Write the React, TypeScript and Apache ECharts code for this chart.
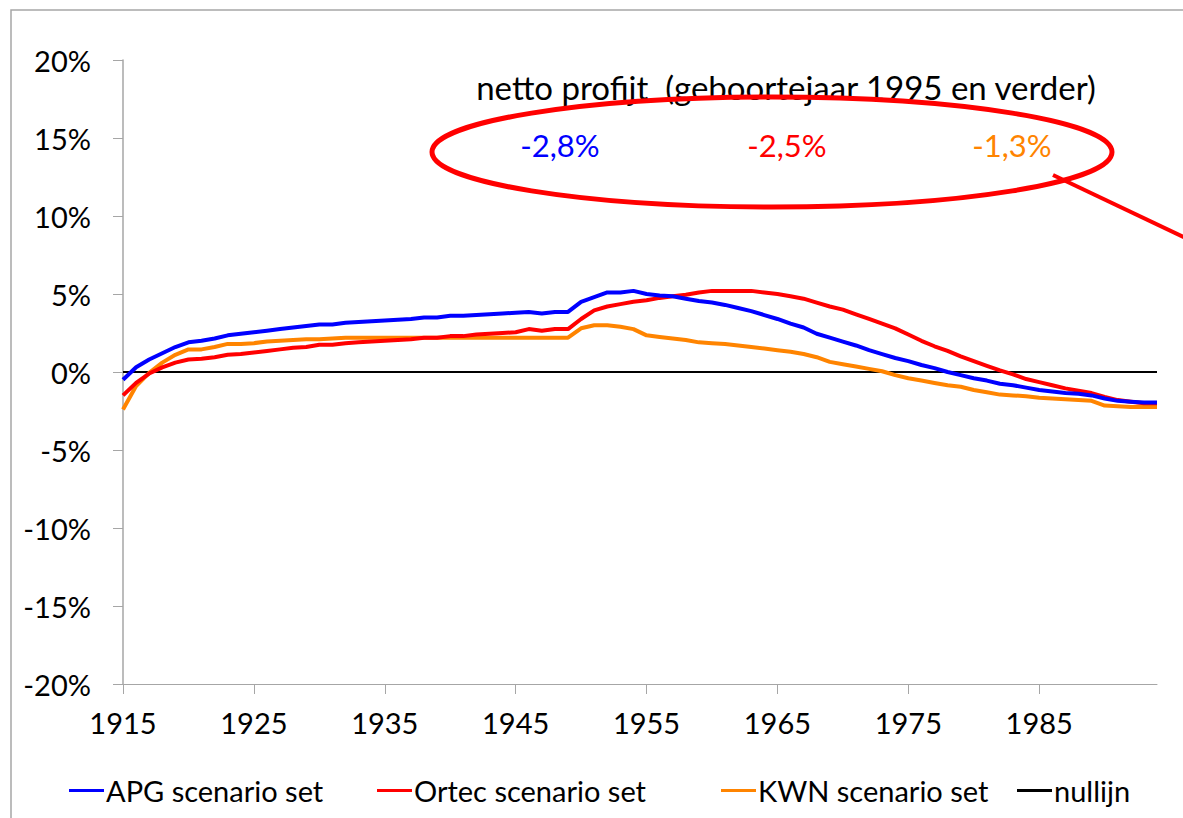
import React, { useEffect, useRef } from "react";
import * as echarts from "echarts";

const years: string[] = [];
for (let y = 1915; y <= 1994; y++) years.push(String(y));

const apg = [
  -0.5, 0.3, 0.8, 1.2, 1.6, 1.9, 2.0, 2.15, 2.35, 2.45,
  2.55, 2.65, 2.75, 2.85, 2.95, 3.05, 3.05, 3.15, 3.2, 3.25,
  3.3, 3.35, 3.4, 3.5, 3.5, 3.6, 3.6, 3.65, 3.7, 3.75,
  3.8, 3.85, 3.75, 3.85, 3.85, 4.5, 4.8, 5.1, 5.1, 5.2,
  5.0, 4.9, 4.85, 4.7, 4.55, 4.45, 4.3, 4.1, 3.9, 3.65,
  3.4, 3.1, 2.85, 2.45, 2.2, 1.95, 1.7, 1.4, 1.15, 0.9,
  0.7, 0.45, 0.25, 0.0, -0.2, -0.4, -0.55, -0.75, -0.85, -1.0,
  -1.15, -1.25, -1.35, -1.4, -1.5, -1.7, -1.85, -1.9, -1.95, -1.95,
];

const ortec = [
  -1.5, -0.7, -0.1, 0.3, 0.6, 0.8, 0.85, 0.95, 1.1, 1.15,
  1.25, 1.35, 1.45, 1.55, 1.6, 1.75, 1.75, 1.85, 1.9, 1.95,
  2.0, 2.05, 2.1, 2.2, 2.2, 2.3, 2.3, 2.4, 2.45, 2.5,
  2.55, 2.75, 2.65, 2.75, 2.75, 3.4, 3.95, 4.2, 4.35, 4.5,
  4.6, 4.75, 4.85, 4.95, 5.1, 5.2, 5.2, 5.2, 5.2, 5.1,
  5.0, 4.85, 4.7, 4.45, 4.2, 4.0, 3.7, 3.4, 3.1, 2.8,
  2.4, 2.0, 1.65, 1.35, 1.0, 0.7, 0.4, 0.1, -0.15, -0.45,
  -0.65, -0.85, -1.05, -1.2, -1.35, -1.6, -1.8, -1.9, -2.0, -2.0,
];

const kwn = [
  -2.4, -0.9, -0.05, 0.6, 1.1, 1.45, 1.45, 1.6, 1.8, 1.8,
  1.85, 1.95, 2.0, 2.05, 2.1, 2.1, 2.15, 2.2, 2.2, 2.2,
  2.2, 2.2, 2.2, 2.2, 2.2, 2.2, 2.2, 2.2, 2.2, 2.2,
  2.2, 2.2, 2.2, 2.2, 2.2, 2.8, 3.0, 3.0, 2.9, 2.75,
  2.35, 2.25, 2.15, 2.05, 1.9, 1.85, 1.8, 1.7, 1.6, 1.5,
  1.4, 1.3, 1.15, 0.95, 0.65, 0.5, 0.35, 0.2, 0.05, -0.2,
  -0.4, -0.55, -0.7, -0.85, -0.95, -1.15, -1.3, -1.45, -1.5, -1.55,
  -1.65, -1.7, -1.75, -1.8, -1.85, -2.15, -2.2, -2.25, -2.25, -2.25,
];

const nullijn = years.map(() => 0);

const seriesNames = ["APG scenario set", "Ortec scenario set", "KWN scenario set", "nullijn"];
const seriesColors = ["#0000FF", "#FF0000", "#FF8400", "#000000"];

const titleText = "netto profijt  (geboortejaar 1995 en verder)";
const profitLabels = ["-2,8%", "-2,5%", "-1,3%"];

const FONT = "Lato, 'Noto Sans', sans-serif";
const legendLefts = [69, 377, 721, 1017];

export default function App() {
  const ref = useRef<HTMLDivElement>(null);
  useEffect(() => {
    document.body.style.margin = "0";
    if (!ref.current) return;
    const chart = echarts.init(ref.current, null, { renderer: "svg" });
    const dataSets = [apg, ortec, kwn, nullijn];
    chart.setOption({
      animation: false,
      backgroundColor: "#ffffff",
      textStyle: { fontFamily: FONT },
      grid: { left: 123, right: 26, top: 60, bottom: 134, containLabel: false },
      legend: seriesNames.map((name, i) => ({
        data: [name],
        left: legendLefts[i],
        top: 776,
        padding: 0,
        icon: "rect",
        itemWidth: 35,
        itemHeight: 3,
        textStyle: { fontFamily: FONT, fontSize: 29, color: "#000", padding: [0, 0, 0, -3] },
      })),
      xAxis: {
        type: "category",
        data: years,
        boundaryGap: false,
        axisLine: { onZero: false, lineStyle: { color: "#A6A6A6", width: 1 } },
        axisTick: { interval: 9, length: 10, lineStyle: { color: "#A6A6A6" } },
        axisLabel: { interval: 9, margin: 24, fontSize: 29, color: "#000", fontFamily: FONT },
        splitLine: { show: false },
      },
      yAxis: {
        type: "value",
        min: -20,
        max: 20,
        interval: 5,
        axisLine: { show: true, lineStyle: { color: "#A6A6A6", width: 1.5 } },
        axisTick: { show: true, length: 10, lineStyle: { color: "#A6A6A6" } },
        axisLabel: { margin: 32, fontSize: 29, color: "#000", fontFamily: FONT, formatter: (v: number) => `${v}%` },
        splitLine: { show: false },
      },
      series: seriesNames.map((name, i) => ({
        name,
        type: "line",
        data: dataSets[i],
        symbol: "none",
        smooth: false,
        lineStyle: { color: seriesColors[i], width: i === 3 ? 2 : 4 },
        itemStyle: { color: seriesColors[i] },
        z: i === 3 ? 1 : 5 - i,
      })),
      graphic: [
        {
          type: "rect",
          shape: { x: 11, y: 10, width: 1200, height: 900 },
          style: { fill: "none", stroke: "#A6A6A6", lineWidth: 1.5 },
          silent: true,
          z: -1,
        },
        {
          type: "text",
          x: 786,
          y: 87,
          style: { text: titleText, fontSize: 33, fontFamily: FONT, fill: "#000", align: "center", verticalAlign: "middle" },
          z: 10,
        },
        {
          type: "ellipse",
          shape: { cx: 772, cy: 152, rx: 340, ry: 55 },
          style: { fill: "none", stroke: "#FF0000", lineWidth: 5 },
          z: 11,
        },
        {
          type: "line",
          shape: { x1: 1053, y1: 175, x2: 1190, y2: 240 },
          style: { stroke: "#FF0000", lineWidth: 4 },
          z: 11,
        },
        ...profitLabels.map((t, i) => ({
          type: "text",
          x: [560, 787, 1012][i],
          y: 145,
          style: { text: t, fontSize: 31, fontFamily: FONT, fill: seriesColors[i], align: "center", verticalAlign: "middle" },
          z: 10,
        })),
      ],
    });
    return () => chart.dispose();
  }, []);
  return <div ref={ref} style={{ width: 1183, height: 818 }} />;
}
